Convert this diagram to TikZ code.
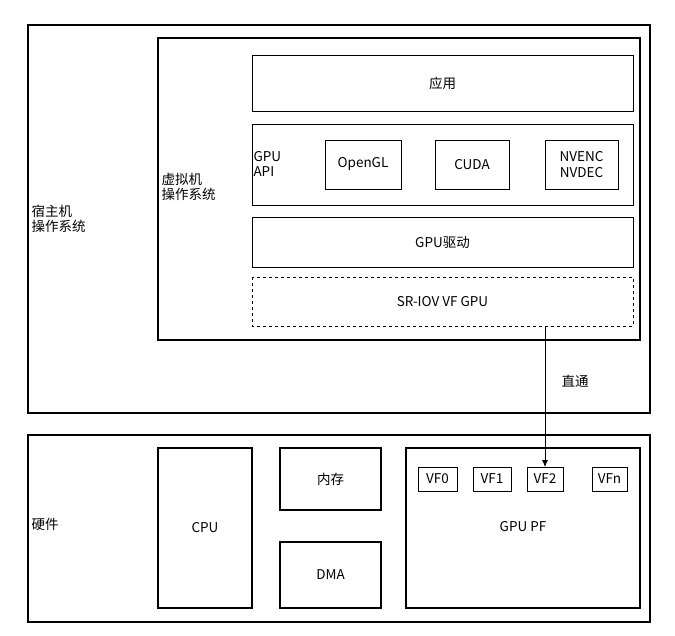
\documentclass[tikz,border=0pt]{standalone}
\usepackage{fontspec}
\setmainfont{Noto Sans CJK SC}
\usetikzlibrary{arrows.meta}
\begin{document}
\begin{tikzpicture}[x=1pt,y=-1pt,
  box/.style={draw,line width=1.2pt,inner sep=0},
  sbox/.style={draw,line width=0.8pt,inner sep=0},
  lab/.style={font=\fontsize{13.5}{15.5}\selectfont,align=left},
  txt/.style={font=\fontsize{13.5}{15.5}\selectfont,align=center}]
\useasboundingbox (0,0) rectangle (675,636);
\draw[box] (28,25) rectangle (650,413);
\node[lab,anchor=west] (host) at (28,219) {宿主机\\操作系统};
\draw[box] (158,38) rectangle (640,340);
\node[lab,anchor=west] (vm) at (158,187) {虚拟机\\操作系统};
\draw[sbox] (252,55) rectangle node[txt] (app) {应用} (633,111);
\draw[sbox] (252,124) rectangle (633,205);
\node[lab,anchor=west] (api) at (250,164) {GPU\\API};
\draw[sbox] (325,140) rectangle node[txt] (gl) {OpenGL} (401,189);
\draw[sbox] (435,140) rectangle node[txt] (cuda) {CUDA} (509,189);
\draw[sbox] (545,140) rectangle node[txt] (nv) {NVENC\\NVDEC} (618,189);
\draw[sbox] (252,217) rectangle node[txt] (drv) {GPU驱动} (633,267);
\draw[sbox,dashed] (252,277) rectangle node[txt] (sr) {SR-IOV VF GPU} (633,326);
\draw[box] (28,435) rectangle (650,622);
\node[lab,anchor=west] (hw) at (28,524) {硬件};
\draw[sbox,line width=1.2pt] (158,448) rectangle node[txt] (cpu) {CPU} (252,608);
\draw[sbox,line width=1.2pt] (280,448) rectangle node[txt] (mem) {内存} (381,510);
\draw[sbox,line width=1.2pt] (280,542) rectangle node[txt] (dma) {DMA} (381,608);
\draw[sbox,line width=1.2pt] (406,448) rectangle (640,608);
\node[txt] (pf) at (523,527) {GPU PF};
\draw[sbox] (418,467) rectangle node[txt] (vf0) {VF0} (457,491);
\draw[sbox] (473,467) rectangle node[txt] (vf1) {VF1} (511,491);
\draw[sbox] (527,467) rectangle node[txt] (vf2) {VF2} (563,491);
\draw[sbox] (592,467) rectangle node[txt] (vfn) {VFn} (627,491);
\coordinate (a) at (545,326);
\coordinate (b) at (545,467);
\draw[line width=0.8pt,-{Latex[length=7pt,width=6pt]}] (a) -- (b);
\node[txt] (zt) at (575,381) {直通};
\end{tikzpicture}
\end{document}
